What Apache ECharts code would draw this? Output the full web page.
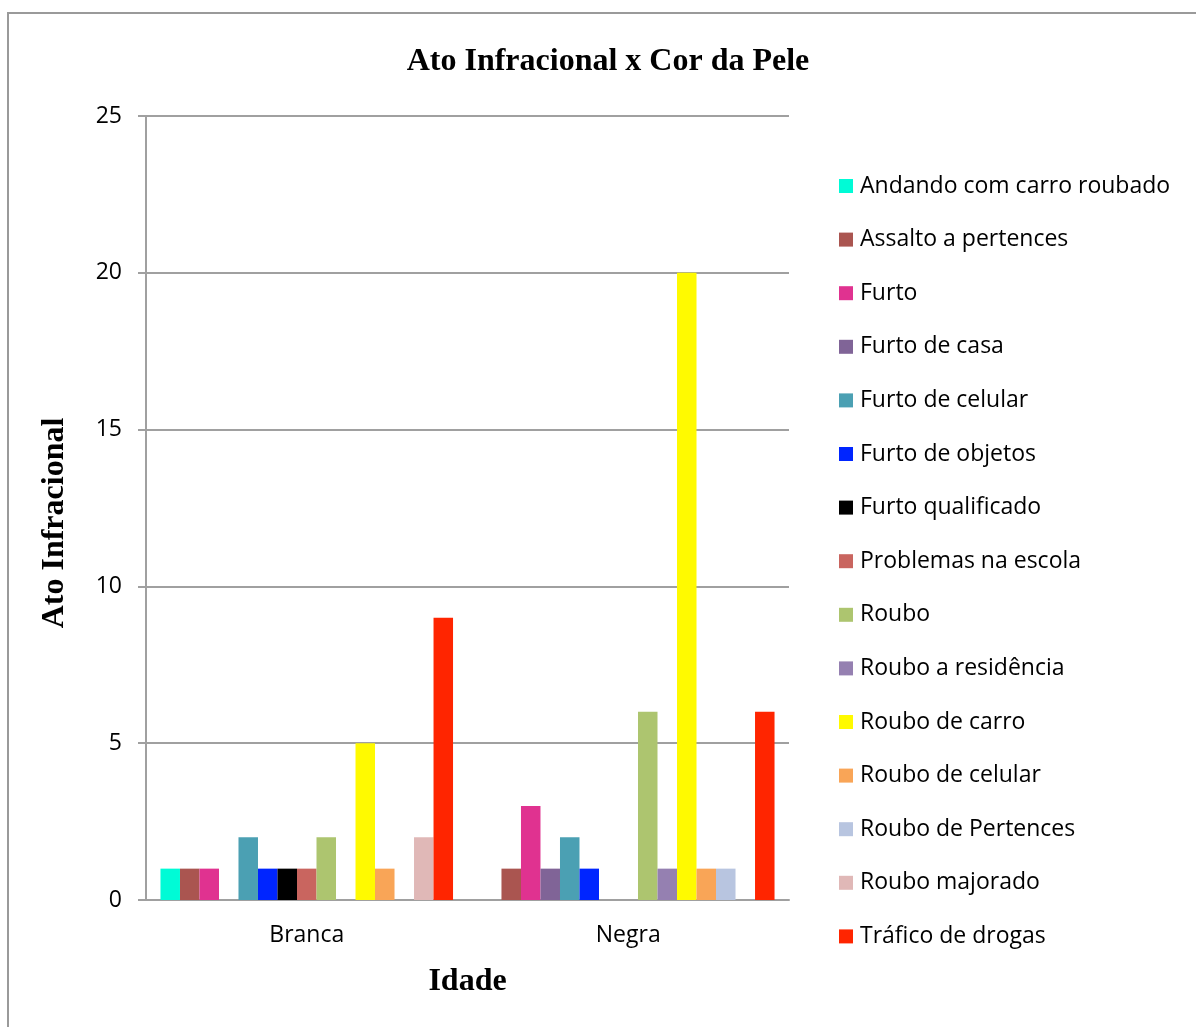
<!DOCTYPE html>
<html>
<head>
<meta charset="utf-8">
<script src="https://cdn.jsdelivr.net/npm/echarts@6/dist/echarts.min.js"></script>
<style>html,body{margin:0;padding:0;background:#fff;}#c{width:1196px;height:1027px;}</style>
</head>
<body>
<div id="c"></div>
<script>
const categories = ['Branca', 'Negra'];
const seriesNames = ['Andando com carro roubado','Assalto a pertences','Furto','Furto de casa','Furto de celular','Furto de objetos','Furto qualificado','Problemas na escola','Roubo','Roubo a residência','Roubo de carro','Roubo de celular','Roubo de Pertences','Roubo majorado','Tráfico de drogas'];
const brancaValues = [1,1,1,0,2,1,1,1,2,0,5,1,0,2,9];
const negraValues  = [0,1,3,1,2,1,0,0,6,1,20,1,1,0,6];
const colors = ['#00FBD6','#AA5550','#E03290','#806497','#4BA0B3','#0025FF','#000000','#C9655F','#ADC56F','#9580B1','#FFFA00','#F9A557','#B8C5E0','#E0B8B7','#FF2500'];
const yTicks = [0,5,10,15,20,25];

const chart = echarts.init(document.getElementById('c'));
const sans = 'Open Sans';
const serif = 'Liberation Serif';
const series = seriesNames.map((n,i)=>({
  name: n, type: 'bar',
  data: [brancaValues[i], negraValues[i]],
  itemStyle: {color: colors[i]},
  barGap: '0%', barCategoryGap: '9%',
  emphasis: {disabled: true}
}));
chart.setOption({
  animation: false,
  color: colors,
  title: {
    text: 'Ato Infracional x Cor da Pele',
    left: 603, top: 41, textAlign: 'center',
    textStyle: {fontFamily: serif, fontWeight: 'bold', fontSize: 32, color: '#000'}
  },
  graphic: [{
    type: 'rect', shape: {x: 8, y: 13, width: 1300, height: 1200},
    style: {fill: 'none', stroke: '#9a9a9a', lineWidth: 2}, silent: true
  }, {
    type: 'text', x: 55, y: 523, rotation: Math.PI / 2,
    style: {text: 'Ato Infracional', fontFamily: serif, fontWeight: 'bold', fontSize: 32,
      fill: '#000', align: 'center', verticalAlign: 'middle'}, silent: true
  }],
  grid: {left: 146, right: 407, top: 116, bottom: 127},
  legend: {
    orient: 'vertical', left: 839, top: 174, padding: 0,
    itemWidth: 14, itemHeight: 14, itemGap: 29.6,
    icon: 'rect',
    textStyle: {fontFamily: sans, fontSize: 23, color: '#000', lineHeight: 24, padding: [0,0,0,2]},
    data: seriesNames
  },
  xAxis: {
    type: 'category', data: categories,
    name: 'Idade', nameLocation: 'middle', nameGap: 66,
    nameTextStyle: {fontFamily: serif, fontWeight: 'bold', fontSize: 32, color: '#000'},
    axisLine: {lineStyle: {color: '#a0a0a0', width: 2}},
    axisTick: {show: false},
    axisLabel: {fontFamily: sans, fontSize: 23, color: '#000', margin: 24}
  },
  yAxis: {
    type: 'value', min: 0, max: 25, interval: 5,
    axisLine: {show: true, lineStyle: {color: '#a0a0a0', width: 2}},
    axisTick: {show: true, length: 8, lineStyle: {color: '#a0a0a0', width: 2}},
    splitLine: {lineStyle: {color: '#a0a0a0', width: 2}},
    axisLabel: {fontFamily: sans, fontSize: 23, color: '#000', margin: 24,
      formatter: v => yTicks.includes(v) ? String(v) : ''}
  },
  series: series
});
</script>
</body>
</html>
